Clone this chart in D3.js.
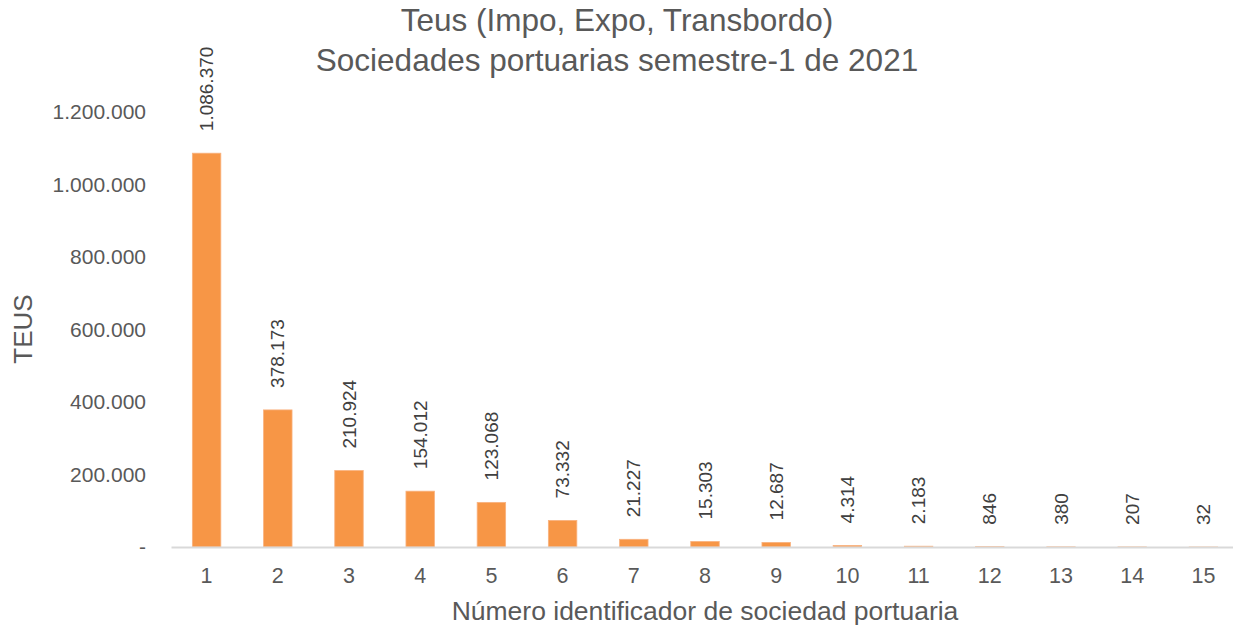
<!DOCTYPE html>
<html>
  <head>
    <meta charset="utf-8">
    <title>Teus sociedades portuarias</title>
    <style>
      html, body {
        padding: 0;
        margin: 0;
        background: #fff;
      }
      svg {
        display: block;
        font-family: "Liberation Sans", Arial, sans-serif;
      }
    </style>
  </head>
<body>

<svg id="chart" width="1233" height="627"></svg>

<script src="https://cdn.jsdelivr.net/npm/d3@7"></script>
<script>

// sociedades portuarias 1..15, teus semestre 1 2021
const societies = ["1", "2", "3", "4", "5", "6", "7", "8", "9", "10", "11", "12", "13", "14", "15"];
const teus = [1086370, 378173, 210924, 154012, 123068, 73332, 21227, 15303, 12687, 4314, 2183, 846, 380, 207, 32];
const yTicks = [0, 200000, 400000, 600000, 800000, 1000000, 1200000];
const titleLines = ["Teus (Impo, Expo, Transbordo)", "Sociedades portuarias semestre-1 de 2021"];

const es = d3.formatLocale({decimal: ",", thousands: ".", grouping: [3], currency: ["$", ""]});
const fmt = es.format(",d");

const svg = d3.select("#chart");

const x = d3.scaleBand()
            .domain(societies)
            .range([171, 1239])
            .padding(0);

const y = d3.scaleLinear()
            .domain([0, 1200000])
            .range([547, 112]);

const barW = x.bandwidth() * 0.4;

// title
svg.append("g")
   .selectAll("text")
   .data(titleLines)
   .enter()
   .append("text")
   .attr("x", 617)
   .attr("y", (d, i) => 31 + i * 40)
   .attr("text-anchor", "middle")
   .style("font-size", "31.5px")
   .style("fill", "#595959")
   .text(d => d);

// y axis labels
const yAxis = svg.append("g")
   .attr("transform", "translate(146,0)")
   .call(d3.axisLeft(y).tickValues(yTicks).tickSize(0).tickPadding(0)
          .tickFormat(d => d === 0 ? "-" : fmt(d)));
yAxis.select(".domain").remove();
yAxis.selectAll("text")
     .style("font-family", "Liberation Sans, Arial, sans-serif")
     .style("font-size", "21px")
     .style("fill", "#595959");

// bars
svg.append("g")
   .selectAll("rect")
   .data(teus)
   .enter()
   .append("rect")
   .attr("x", (d, i) => x(societies[i]) + (x.bandwidth() - barW) / 2)
   .attr("y", d => y(d))
   .attr("width", barW)
   .attr("height", d => y(0) - y(d))
   .style("fill", "#F79646")
   .style("stroke", "#F9B27F")
   .style("stroke-width", "0.8px");

// value labels
svg.append("g")
   .selectAll("text")
   .data(teus)
   .enter()
   .append("text")
   .attr("transform", (d, i) =>
     "translate(" + (x(societies[i]) + x.bandwidth() / 2 + 6.5) + "," + (y(d) - 22) + ") rotate(-90)")
   .attr("text-anchor", "start")
   .style("font-size", "19px")
   .style("fill", "#404040")
   .text(d => fmt(d));

// x axis
const xAxis = svg.append("g")
   .attr("transform", "translate(0," + y(0) + ")")
   .call(d3.axisBottom(x).tickSize(0).tickPadding(21));
xAxis.select(".domain")
     .style("stroke", "#D9D9D9")
     .style("stroke-width", "2px");
xAxis.selectAll("text")
     .style("font-family", "Liberation Sans, Arial, sans-serif")
     .style("font-size", "21.5px")
     .style("fill", "#595959");

// axis titles
svg.append("text")
   .attr("x", 705)
   .attr("y", 620)
   .attr("text-anchor", "middle")
   .style("font-size", "26.5px")
   .style("fill", "#595959")
   .text("Número identificador de sociedad portuaria");

svg.append("text")
   .attr("transform", "translate(32,329) rotate(-90)")
   .attr("text-anchor", "middle")
   .style("font-size", "26px")
   .style("fill", "#595959")
   .text("TEUS");

</script>

</body>
</html>
